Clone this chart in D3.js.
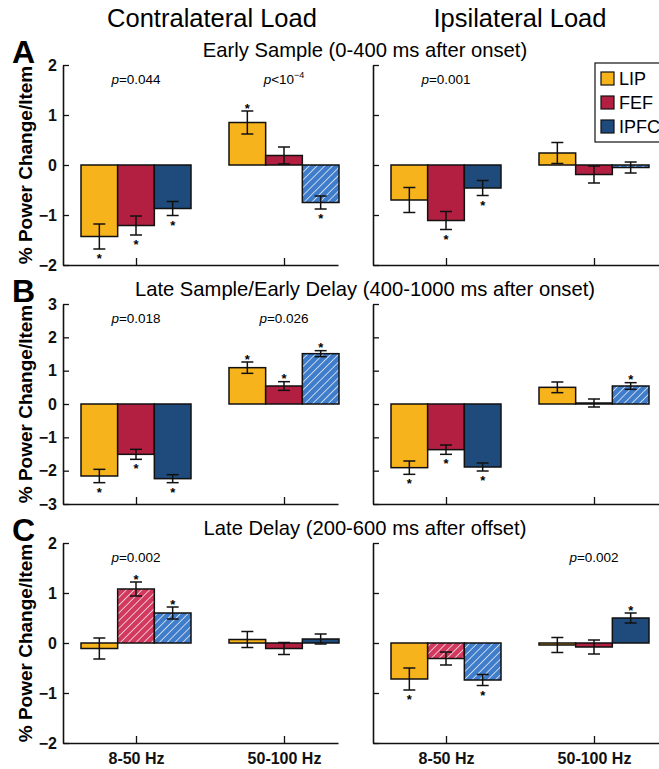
<!DOCTYPE html>
<html>
<head>
<meta charset="utf-8">
<script src="https://cdn.jsdelivr.net/npm/d3@7"></script>
<style>
  body { margin: 0; background: #fff; }
  text { font-family: "Liberation Sans", Arial, Helvetica, sans-serif; }
</style>
</head>
<body>
<script>
var areas = ["LIP", "FEF", "IPFC"];
var bands = ["8-50 Hz", "50-100 Hz"];
var columns = ["Contralateral Load", "Ipsilateral Load"];
var epochs = ["Early Sample (0-400 ms after onset)",
              "Late Sample/Early Delay (400-1000 ms after onset)",
              "Late Delay (200-600 ms after offset)"];
var letters = ["A", "B", "C"];
var yLimits = [2, 3, 2];

// mean % power change per item, [band][area]
var contraA = [[-1.43, -1.21, -0.87], [0.85, 0.19, -0.75]];
var contraAErr = [[0.25, 0.19, 0.14], [0.23, 0.17, 0.13]];
var ipsiA = [[-0.70, -1.11, -0.46], [0.24, -0.19, -0.05]];
var ipsiAErr = [[0.25, 0.18, 0.15], [0.21, 0.17, 0.11]];
var contraB = [[-2.16, -1.51, -2.24], [1.09, 0.54, 1.51]];
var contraBErr = [[0.20, 0.15, 0.12], [0.17, 0.13, 0.09]];
var ipsiB = [[-1.91, -1.37, -1.89], [0.50, 0.03, 0.54]];
var ipsiBErr = [[0.20, 0.14, 0.12], [0.16, 0.12, 0.10]];
var contraC = [[-0.11, 1.08, 0.60], [0.07, -0.11, 0.08]];
var contraCErr = [[0.21, 0.14, 0.12], [0.16, 0.12, 0.10]];
var ipsiC = [[-0.72, -0.31, -0.74], [-0.04, -0.08, 0.50]];
var ipsiCErr = [[0.22, 0.13, 0.11], [0.15, 0.14, 0.10]];

// significance stars and hatched (contra > ipsi) bars
var contraAStar = [[1, 1, 1], [1, 0, 1]];
var ipsiAStar = [[0, 1, 1], [0, 0, 0]];
var contraBStar = [[1, 1, 1], [1, 1, 1]];
var ipsiBStar = [[1, 1, 1], [0, 0, 1]];
var contraCStar = [[0, 1, 1], [0, 0, 0]];
var ipsiCStar = [[1, 0, 1], [0, 0, 1]];
var contraAHatch = [[0, 0, 0], [0, 0, 1]];
var ipsiAHatch = [[0, 0, 0], [0, 0, 1]];
var contraBHatch = [[0, 0, 0], [0, 0, 1]];
var ipsiBHatch = [[0, 0, 0], [0, 0, 1]];
var contraCHatch = [[0, 1, 1], [0, 0, 0]];
var ipsiCHatch = [[0, 1, 1], [0, 0, 0]];

// p-values per band ("" = none)
var contraAP = ["0.044", "<10"];
var ipsiAP = ["0.001", ""];
var contraBP = ["0.018", "0.026"];
var ipsiBP = ["", ""];
var contraCP = ["0.002", ""];
var ipsiCP = ["", "0.002"];

var panels = [
  [{v: contraA, e: contraAErr, s: contraAStar, h: contraAHatch, p: contraAP},
   {v: ipsiA, e: ipsiAErr, s: ipsiAStar, h: ipsiAHatch, p: ipsiAP}],
  [{v: contraB, e: contraBErr, s: contraBStar, h: contraBHatch, p: contraBP},
   {v: ipsiB, e: ipsiBErr, s: ipsiBStar, h: ipsiBHatch, p: ipsiBP}],
  [{v: contraC, e: contraCErr, s: contraCStar, h: contraCHatch, p: contraCP},
   {v: ipsiC, e: ipsiCErr, s: ipsiCStar, h: ipsiCHatch, p: ipsiCP}]
];

var colors = ["#f6b31b", "#b31f41", "#1e4b7b"];
var hatchColors = ["#f6b31b", "#d2395f", "#3f7cca"];

var W = 659, H = 769;
var svg = d3.select("body").append("svg").attr("width", W).attr("height", H);

var defs = svg.append("defs");
hatchColors.forEach(function(c, i) {
  var pat = defs.append("pattern")
    .attr("id", "hatch" + i)
    .attr("patternUnits", "userSpaceOnUse")
    .attr("width", 5.5).attr("height", 5.5)
    .attr("patternTransform", "rotate(45)");
  pat.append("rect").attr("width", 5.5).attr("height", 5.5).attr("fill", c);
  pat.append("line").attr("x1", 0).attr("y1", 0).attr("x2", 0).attr("y2", 5.5)
    .attr("stroke", "#fff").attr("stroke-width", 1.6).attr("opacity", 0.85);
});

var panelH = 200, rowStep = 239, firstTop = 65;
var colX = [63, 373], colW = [275, 300];
var groupW = 110, barW = groupW / 3;

// column headers
svg.selectAll("text.colhead").data(columns).enter().append("text")
  .attr("class", "colhead")
  .attr("x", function(d, i) { return [212, 520][i]; })
  .attr("y", 27)
  .attr("text-anchor", "middle")
  .attr("font-size", 25.5)
  .text(function(d) { return d; });

panels.forEach(function(row, r) {
  var top = firstTop + r * rowStep;
  var yMax = yLimits[r];
  var y = d3.scaleLinear().domain([-yMax, yMax]).range([top + panelH, top]);

  svg.append("text").attr("x", 12).attr("y", top - 2)
    .attr("font-size", 32).attr("font-weight", "bold").text(letters[r]);
  svg.append("text").attr("x", 365).attr("y", top - 8)
    .attr("text-anchor", "middle").attr("font-size", 20.2).text(epochs[r]);
  svg.append("text")
    .attr("transform", "translate(25," + (top + panelH / 2) + ") rotate(-90)")
    .attr("text-anchor", "middle").attr("dominant-baseline", "central")
    .attr("font-size", 19).attr("font-weight", "bold")
    .text("% Power Change/Item");

  row.forEach(function(pd, c) {
    var x0 = colX[c];
    // band centres sit 73px and 221px from the y axis
    var x = d3.scaleLinear().domain([-73 / 148, (colW[c] - 73) / 148]).range([x0, x0 + colW[c]]);
    var g = svg.append("g");

    var bars = [];
    pd.v.forEach(function(vals, b) {
      vals.forEach(function(v, a) {
        bars.push({b: b, a: a, v: v, e: pd.e[b][a], s: pd.s[b][a], h: pd.h[b][a]});
      });
    });
    var bx = function(d) { return x(d.b) - groupW / 2 + d.a * barW; };

    g.selectAll("rect.bar").data(bars).enter().append("rect")
      .attr("class", "bar")
      .attr("x", bx)
      .attr("y", function(d) { return Math.min(y(d.v), y(0)); })
      .attr("width", barW)
      .attr("height", function(d) { return Math.abs(y(d.v) - y(0)); })
      .attr("fill", function(d) { return d.h ? "url(#hatch" + d.a + ")" : colors[d.a]; })
      .attr("stroke", "#111").attr("stroke-width", 1.5);

    // error bars
    var eb = g.selectAll("g.err").data(bars).enter().append("g").attr("class", "err")
      .attr("stroke", "#111").attr("stroke-width", 1.5);
    eb.append("line")
      .attr("x1", function(d) { return bx(d) + barW / 2; })
      .attr("x2", function(d) { return bx(d) + barW / 2; })
      .attr("y1", function(d) { return y(d.v + d.e); })
      .attr("y2", function(d) { return y(d.v - d.e); });
    [1, -1].forEach(function(sg) {
      eb.append("line")
        .attr("x1", function(d) { return bx(d) + barW / 2 - 6; })
        .attr("x2", function(d) { return bx(d) + barW / 2 + 6; })
        .attr("y1", function(d) { return y(d.v + sg * d.e); })
        .attr("y2", function(d) { return y(d.v + sg * d.e); });
    });

    g.selectAll("text.star").data(bars.filter(function(d) { return d.s; })).enter().append("text")
      .attr("class", "star")
      .attr("x", function(d) { return bx(d) + barW / 2; })
      .attr("y", function(d) {
        return d.v >= 0 ? y(d.v + d.e) + 1.5 : y(d.v - d.e) + 14;
      })
      .attr("text-anchor", "middle").attr("font-size", 13).attr("font-weight", "bold")
      .text("*");

    // p-values
    pd.p.forEach(function(p, b) {
      if (!p) return;
      var t = g.append("text").attr("x", x(b)).attr("y", top + 19)
        .attr("text-anchor", "middle").attr("font-size", 13.5);
      t.append("tspan").attr("font-style", "italic").text("p");
      if (p === "<10") {
        t.append("tspan").text("<10");
        t.append("tspan").attr("font-size", 9).attr("dy", -6).text("\u22124");
      } else {
        t.append("tspan").text("=" + p);
      }
    });

    // axes
    var yAxis = d3.axisLeft(y).tickValues(d3.range(-yMax, yMax + 1))
      .tickFormat(d3.format("d"))
      .tickSize(-6).tickSizeOuter(0).tickPadding(6);
    if (c === 1) yAxis.tickFormat("");
    var ya = svg.append("g").attr("transform", "translate(" + x0 + ",0)").call(yAxis);

    var xAxis = d3.axisBottom(x).tickValues([0, 1])
      .tickFormat(function(i) { return r === 2 ? bands[i] : ""; })
      .tickSize(-7).tickSizeOuter(0).tickPadding(10);
    var xa = svg.append("g").attr("transform", "translate(0," + (top + panelH) + ")").call(xAxis);

    [ya, xa].forEach(function(ax) {
      ax.select(".domain").attr("stroke", "#111").attr("stroke-width", 1.6);
      ax.selectAll(".tick line").attr("stroke", "#111").attr("stroke-width", 1.3);
      ax.selectAll(".tick text").attr("fill", "#111")
        .attr("font-family", "Liberation Sans, Arial, sans-serif");
    });
    ya.selectAll(".tick text").attr("font-size", 16).attr("font-weight", "bold");
    xa.selectAll(".tick text").attr("font-size", 16).attr("font-weight", "bold");
  });
});

// legend
var lg = svg.append("g").attr("transform", "translate(595,63)");
lg.append("rect").attr("width", 90).attr("height", 79)
  .attr("fill", "#fff").attr("stroke", "#111").attr("stroke-width", 1.2);
lg.selectAll("rect.sw").data(areas).enter().append("rect")
  .attr("class", "sw")
  .attr("x", 6).attr("y", function(d, i) { return 9 + i * 24; })
  .attr("width", 13).attr("height", 13)
  .attr("fill", function(d, i) { return colors[i]; })
  .attr("stroke", "#111").attr("stroke-width", 1.2);
lg.selectAll("text").data(areas).enter().append("text")
  .attr("x", 24).attr("y", function(d, i) { return 22 + i * 24; })
  .attr("font-size", 18).text(function(d) { return d; });
</script>
</body>
</html>
